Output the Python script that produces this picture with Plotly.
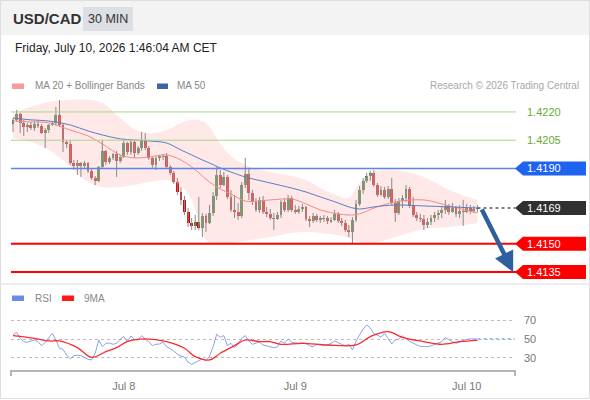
import pandas as pd
import plotly.graph_objects as go

W, H = 590, 400
FONT = "Liberation Sans, Arial, sans-serif"

# 30 min candles, Jul 7 08:30 -> Jul 10 01:30
start_time = "2026-07-07 08:30"
first_open = 1.42136
closes = [
    1.42158, 1.42189, 1.42142, 1.42120, 1.42131, 1.42115, 1.42136, 1.42126, 1.42088, 1.42104,
    1.42131, 1.42142, 1.42184, 1.42131, 1.42041, 1.42030, 1.41929, 1.41913, 1.41929, 1.41913,
    1.41929, 1.41887, 1.41850, 1.41834, 1.41908, 1.41993, 1.41934, 1.41956, 1.41977, 1.41940,
    1.41961, 1.42035, 1.41988, 1.42041, 1.41982, 1.42009, 1.42051, 1.42009, 1.41956, 1.41919,
    1.41956, 1.41961, 1.41966, 1.41908, 1.41876, 1.41828, 1.41775, 1.41733, 1.41669, 1.41611,
    1.41595, 1.41616, 1.41584, 1.41648, 1.41611, 1.41664, 1.41754, 1.41865, 1.41812, 1.41855,
    1.41749, 1.41680, 1.41669, 1.41648, 1.41812, 1.41871, 1.41770, 1.41722, 1.41680, 1.41733,
    1.41669, 1.41659, 1.41637, 1.41632, 1.41653, 1.41722, 1.41680, 1.41743, 1.41680, 1.41669,
    1.41685, 1.41696, 1.41632, 1.41621, 1.41648, 1.41627, 1.41632, 1.41637, 1.41621, 1.41627,
    1.41659, 1.41621, 1.41611, 1.41573, 1.41563, 1.41627, 1.41712, 1.41786, 1.41834, 1.41860,
    1.41876, 1.41812, 1.41759, 1.41786, 1.41749, 1.41791, 1.41717, 1.41664, 1.41727, 1.41743,
    1.41791, 1.41701, 1.41653, 1.41637, 1.41632, 1.41600, 1.41616, 1.41637, 1.41653, 1.41664,
    1.41680, 1.41701, 1.41669, 1.41690, 1.41659, 1.41674, 1.41669, 1.41690, 1.41674, 1.41685,
    1.41690]
highs = [
    1.42168, 1.42211, 1.42195, 1.42158, 1.42142, 1.42147, 1.42152, 1.42158, 1.42136, 1.42115,
    1.42136, 1.42152, 1.42227, 1.42264, 1.42136, 1.42051, 1.42051, 1.41945, 1.41945, 1.41934,
    1.41940, 1.41934, 1.41897, 1.41860, 1.41913, 1.42051, 1.41998, 1.41966, 1.41982, 1.41993,
    1.41972, 1.42051, 1.42041, 1.42051, 1.42051, 1.42019, 1.42094, 1.42088, 1.42019, 1.41961,
    1.41966, 1.41972, 1.41977, 1.41982, 1.41919, 1.41887, 1.41850, 1.41802, 1.41754, 1.41690,
    1.41637, 1.41653, 1.41749, 1.41664, 1.41659, 1.41706, 1.41775, 1.41908, 1.41892, 1.41881,
    1.41865, 1.41786, 1.41759, 1.41717, 1.41828, 1.41956, 1.41903, 1.41786, 1.41743, 1.41749,
    1.41754, 1.41696, 1.41685, 1.41664, 1.41669, 1.41733, 1.41738, 1.41759, 1.41754, 1.41706,
    1.41701, 1.41712, 1.41701, 1.41648, 1.41664, 1.41659, 1.41648, 1.41653, 1.41648, 1.41642,
    1.41680, 1.41669, 1.41637, 1.41627, 1.41600, 1.41642, 1.41733, 1.41807, 1.41850, 1.41876,
    1.41887, 1.41892, 1.41823, 1.41807, 1.41802, 1.41807, 1.41850, 1.41738, 1.41743, 1.41759,
    1.41812, 1.41802, 1.41749, 1.41669, 1.41659, 1.41653, 1.41637, 1.41653, 1.41669, 1.41680,
    1.41701, 1.41733, 1.41712, 1.41717, 1.41701, 1.41706, 1.41733, 1.41712, 1.41706, 1.41701,
    1.41706]
lows = [
    1.42094, 1.42147, 1.42088, 1.42073, 1.42094, 1.42104, 1.42099, 1.42115, 1.42083, 1.42009,
    1.42088, 1.42126, 1.42126, 1.42120, 1.41988, 1.42009, 1.41919, 1.41892, 1.41865, 1.41855,
    1.41903, 1.41876, 1.41839, 1.41812, 1.41828, 1.41903, 1.41919, 1.41924, 1.41945, 1.41855,
    1.41929, 1.41956, 1.41972, 1.41972, 1.41956, 1.41972, 1.41993, 1.41998, 1.41945, 1.41903,
    1.41892, 1.41940, 1.41945, 1.41903, 1.41865, 1.41818, 1.41759, 1.41706, 1.41653, 1.41589,
    1.41573, 1.41573, 1.41573, 1.41536, 1.41563, 1.41605, 1.41648, 1.41733, 1.41796, 1.41807,
    1.41738, 1.41669, 1.41637, 1.41627, 1.41637, 1.41796, 1.41733, 1.41706, 1.41669, 1.41664,
    1.41659, 1.41642, 1.41627, 1.41573, 1.41627, 1.41637, 1.41669, 1.41669, 1.41669, 1.41659,
    1.41659, 1.41669, 1.41621, 1.41589, 1.41611, 1.41616, 1.41611, 1.41616, 1.41605, 1.41611,
    1.41621, 1.41611, 1.41595, 1.41563, 1.41536, 1.41504, 1.41616, 1.41701, 1.41765, 1.41823,
    1.41834, 1.41802, 1.41749, 1.41754, 1.41738, 1.41738, 1.41706, 1.41616, 1.41653, 1.41690,
    1.41722, 1.41690, 1.41642, 1.41621, 1.41616, 1.41573, 1.41584, 1.41600, 1.41616, 1.41627,
    1.41637, 1.41659, 1.41653, 1.41664, 1.41642, 1.41637, 1.41595, 1.41664, 1.41659, 1.41664,
    1.41669]

band_bars = [0, 5, 10, 16, 21, 25, 30, 34, 38, 43, 47, 50, 53, 55, 58, 61, 65, 72, 78, 82,
             86, 91, 94, 97, 101, 107, 115, 122, 130]
bb_upper = [1.42195, 1.42227, 1.42253, 1.42264, 1.42264, 1.42248, 1.42168, 1.42110, 1.42088, 1.42104,
            1.42142, 1.42158, 1.42152, 1.42120, 1.42030, 1.41966, 1.41919, 1.41881, 1.41860, 1.41839,
            1.41796, 1.41754, 1.41743, 1.41823, 1.41881, 1.41892, 1.41855, 1.41786, 1.41733]
bb_lower = [1.42062, 1.42041, 1.41998, 1.41913, 1.41828, 1.41802, 1.41802, 1.41812, 1.41828, 1.41839,
            1.41807, 1.41733, 1.41558, 1.41504, 1.41499, 1.41504, 1.41515, 1.41536, 1.41558, 1.41563,
            1.41558, 1.41547, 1.41531, 1.41510, 1.41504, 1.41536, 1.41579, 1.41589, 1.41611]
ma20 = [1.42152, 1.42147, 1.42142, 1.42104, 1.42073, 1.42030, 1.41972, 1.41956, 1.41961, 1.41972,
        1.41945, 1.41908, 1.41860, 1.41828, 1.41791, 1.41765, 1.41727, 1.41733, 1.41738, 1.41712,
        1.41680, 1.41659, 1.41653, 1.41659, 1.41690, 1.41722, 1.41733, 1.41701, 1.41664]
ma50 = [1.42168, 1.42158, 1.42152, 1.42131, 1.42099, 1.42078, 1.42057, 1.42051, 1.42046, 1.42035,
        1.41998, 1.41972, 1.41945, 1.41929, 1.41903, 1.41881, 1.41855, 1.41823, 1.41796, 1.41775,
        1.41749, 1.41717, 1.41696, 1.41685, 1.41696, 1.41706, 1.41701, 1.41696, 1.41690]

# RSI, one per candle
rsi = [54.6, 57.5, 51, 47.5, 46.8, 48, 49.3, 47.5, 43, 46.8,
       51, 56.4, 49.3, 40.4, 39.3, 33, 29, 32.5, 33, 32.5,
       30.4, 28.5, 27.9, 35, 49.3, 42, 45.7, 46, 44.6, 45.7,
       50, 52.9, 47.5, 53.6, 50, 49.3, 54, 50, 47.5, 43.2,
       44.6, 45, 46.8, 42, 40, 37.5, 34, 32, 31, 25.4,
       23.2, 25.4, 27.5, 29, 27, 32, 42, 55.4, 52.1, 54,
       43.2, 45.7, 41, 45, 51, 54, 48.2, 44.6, 46, 46.8,
       43.9, 43, 42, 41, 42, 48.2, 45.7, 50.4, 46.8, 46,
       45.7, 46, 45.7, 43, 42, 44.6, 43.5, 43.2, 43.9, 45.5,
       48.2, 46, 44.6, 43.2, 44.6, 38.6, 48, 54.6, 61, 65.4,
       62, 56, 54.6, 52.1, 56.4, 51, 45, 49.3, 50, 53.9,
       50.4, 48, 45.7, 43.9, 42.5, 42, 42, 43, 44.6, 46,
       47.5, 51.8, 49.3, 47.5, 45.7, 47, 48.2, 50, 50.4, 50.4,
       50.4]
ma9_bars = [0, 6, 10, 13, 18, 22, 26, 29, 32, 37, 43, 48, 51, 55, 58, 62, 65, 69, 72, 75,
            81, 88, 96, 100, 105, 109, 115, 120, 125, 130]
rsi_ma9 = [53.9, 51, 48.2, 48.2, 41, 30.7, 36.8, 41, 47.5, 50.4, 47.5, 40.4, 31.4, 27.9, 35,
           43.2, 49.3, 47.5, 47.5, 44.6, 45.7, 43.9, 43.9, 52.9, 58.2, 52.1, 47.5, 44.6, 47.5, 48.9]

# key levels
resistances = [1.4220, 1.4205]
pivot = 1.4190
supports = [1.4150, 1.4135]
last_price = 1.4169
target = 1.4135

times = pd.date_range(start_time, periods=len(closes), freq="30min")
opens = [first_open] + closes[:-1]
t0 = pd.Timestamp(start_time)
x_range = [t0 - pd.Timedelta(minutes=17), t0 + pd.Timedelta(hours=70, minutes=15)]


def px(x):
    return x / W


def py(y):
    return 1 - y / H


fig = go.Figure()

# bollinger band fill
band_t = [times[i] for i in band_bars]
fig.add_trace(go.Scatter(x=band_t, y=bb_upper, mode="lines", line=dict(width=0, shape="spline"),
                         yaxis="y", hoverinfo="skip"))
fig.add_trace(go.Scatter(x=band_t, y=bb_lower, mode="lines", line=dict(width=0, shape="spline"),
                         fill="tonexty", fillcolor="rgba(252,200,200,0.42)", yaxis="y", hoverinfo="skip"))

# wicks
wx, wy = [], []
for t, hi, lo in zip(times, highs, lows):
    wx += [t, t, None]
    wy += [lo, hi, None]
fig.add_trace(go.Scatter(x=wx, y=wy, mode="lines", line=dict(color="#8a8a8a", width=1),
                         yaxis="y", hoverinfo="skip"))

# bodies
base = [min(o, c) for o, c in zip(opens, closes)]
size = [max(abs(c - o), 0.00004) for o, c in zip(opens, closes)]
cols = ["#2a7a2a" if c >= o else "#e30000" for o, c in zip(opens, closes)]
fig.add_trace(go.Bar(x=times, y=size, base=base, marker=dict(color=cols, line=dict(width=0)),
                     width=30 * 60 * 1000 * 0.8, yaxis="y", hoverinfo="skip"))

fig.add_trace(go.Scatter(x=band_t, y=ma20, mode="lines", line=dict(color="#f28a8a", width=1, shape="spline"),
                         yaxis="y", hoverinfo="skip"))
fig.add_trace(go.Scatter(x=band_t, y=ma50, mode="lines", line=dict(color="#5a7ec2", width=1, shape="spline"),
                         yaxis="y", hoverinfo="skip"))

# RSI panel
fig.add_trace(go.Scatter(x=times, y=rsi, mode="lines", line=dict(color="#8aa2ea", width=1),
                         yaxis="y2", hoverinfo="skip"))
fig.add_trace(go.Scatter(x=[times[i] for i in ma9_bars], y=rsi_ma9, mode="lines",
                         line=dict(color="#ff2a2a", width=1.3, shape="spline"), yaxis="y2", hoverinfo="skip"))

shapes = []
# header
shapes.append(dict(type="rect", xref="paper", yref="paper", x0=0, x1=1, y0=py(35), y1=1,
                   fillcolor="#f3f3f4", line=dict(width=0), layer="below"))
shapes.append(dict(type="rect", xref="paper", yref="paper", x0=px(83), x1=px(133), y0=py(31), y1=py(7),
                   fillcolor="#dcdfe3", line=dict(width=0), layer="below"))
# frame + separator
shapes.append(dict(type="rect", xref="paper", yref="paper", x0=px(0.5), x1=px(589.5), y0=py(398.5), y1=py(0.5),
                   line=dict(color="#dedede", width=1)))
shapes.append(dict(type="line", xref="paper", yref="paper", x0=0, x1=1, y0=py(284), y1=py(284),
                   line=dict(color="#e6e6e6", width=1.5)))

# level lines
for lv in resistances:
    shapes.append(dict(type="line", xref="paper", yref="y", x0=px(11), x1=px(516), y0=lv, y1=lv,
                       line=dict(color="#a8d889", width=1)))
shapes.append(dict(type="line", xref="paper", yref="y", x0=px(11), x1=px(516), y0=pivot, y1=pivot,
                   line=dict(color="#5b86e6", width=1.5)))
for lv in supports:
    shapes.append(dict(type="line", xref="paper", yref="y", x0=px(11), x1=px(516), y0=lv, y1=lv,
                       line=dict(color="#ff0000", width=2)))

# dotted line from last close, dotted RSI continuation
shapes.append(dict(type="line", xref="x", yref="y", x0=times[-1], x1=x_range[1], y0=last_price, y1=last_price,
                   line=dict(color="#555555", width=1.5, dash="dot")))
shapes.append(dict(type="line", xref="x", yref="y2", x0=times[-1], x1=x_range[1], y0=rsi[-1], y1=rsi[-1],
                   line=dict(color="#8aa2ea", width=1.2, dash="dot")))


# price tags on the right
def tag(level, color):
    return dict(type="path", xref="paper", yref="y", xsizemode="pixel", ysizemode="pixel",
                xanchor=px(515), yanchor=level, path="M0,0 L8,7 L71,7 L71,-7 L8,-7 Z",
                fillcolor=color, line=dict(width=0))


shapes.append(tag(pivot, "#1f63f0"))
shapes.append(tag(last_price, "#303030"))
for lv in supports:
    shapes.append(tag(lv, "#ff0000"))

# legend swatches
shapes.append(dict(type="rect", xref="paper", yref="paper", x0=px(12), x1=px(24), y0=py(89), y1=py(83.5),
                   fillcolor="#f79a9a", line=dict(width=0)))
shapes.append(dict(type="rect", xref="paper", yref="paper", x0=px(157), x1=px(168), y0=py(89), y1=py(83.5),
                   fillcolor="#3e64a6", line=dict(width=0)))
shapes.append(dict(type="rect", xref="paper", yref="paper", x0=px(12), x1=px(24), y0=py(301), y1=py(295.5),
                   fillcolor="#6b8ce6", line=dict(width=0)))
shapes.append(dict(type="rect", xref="paper", yref="paper", x0=px(62), x1=px(74), y0=py(301), y1=py(295.5),
                   fillcolor="#ff1a1a", line=dict(width=0)))

# end ticks of the time axis
for xe in (11, 515):
    shapes.append(dict(type="line", xref="paper", yref="paper", x0=px(xe), x1=px(xe), y0=py(370), y1=py(376),
                       line=dict(color="#b5b5b5", width=2)))

ann = []


def text(x, y, s, size=11, color="#888888", anchor="left", bold=False):
    ann.append(dict(xref="paper", yref="paper", x=px(x), y=py(y), text="<b>%s</b>" % s if bold else s,
                    showarrow=False, xanchor=anchor, yanchor="middle",
                    font=dict(family=FONT, size=size, color=color)))


text(11, 19, "USD/CAD", size=15, color="#333333", bold=True)
text(108, 19, "30 MIN", size=12.5, color="#333333", anchor="center")
text(13, 48, "Friday, July 10, 2026 1:46:04 AM CET", size=12, color="#222222")
text(33, 86, "MA 20 + Bollinger Bands", size=10)
text(175, 86, "MA 50", size=10)
text(581, 86, "Research © 2026 Trading Central", size=10, color="#a8a8a8", anchor="right")
text(33, 298, "RSI", size=10)
text(82, 298, "9MA", size=10)

for lv in resistances:
    ann.append(dict(xref="paper", yref="y", x=px(525), y=lv, text="%.4f" % lv, showarrow=False,
                    xanchor="left", yanchor="middle", font=dict(family=FONT, size=11, color="#66aa33")))
for lv in [pivot, last_price] + supports:
    ann.append(dict(xref="paper", yref="y", x=px(525), y=lv, text="%.4f" % lv, showarrow=False,
                    xanchor="left", yanchor="middle", font=dict(family=FONT, size=11, color="white")))

# forecast arrow
ann.append(dict(xref="x", yref="y", axref="x", ayref="y",
                x=t0 + pd.Timedelta(minutes=30 * 140), y=target,
                ax=t0 + pd.Timedelta(minutes=30 * 131), ay=last_price,
                text="", showarrow=True, arrowhead=2, arrowsize=0.9, arrowwidth=4.5, arrowcolor="#2f5f9f"))

tick_days = [pd.Timestamp("2026-07-08"), pd.Timestamp("2026-07-09"), pd.Timestamp("2026-07-10")]

fig.update_layout(
    width=W, height=H, margin=dict(l=0, r=0, t=0, b=0),
    paper_bgcolor="white", plot_bgcolor="white",
    showlegend=False, bargap=0,
    font=dict(family=FONT),
    xaxis=dict(domain=[px(11), px(515)], range=x_range, anchor="y2",
               showgrid=False, zeroline=False, showline=True, linecolor="#b5b5b5", linewidth=2,
               tickvals=tick_days, ticktext=["Jul 8", "Jul 9", "Jul 10"], ticks="",
               ticklabelstandoff=5, tickfont=dict(size=11, color="#777777")),
    yaxis=dict(domain=[py(283), py(95)], range=[1.41292, 1.42290], anchor="x",
               showgrid=False, zeroline=False, showticklabels=False),
    yaxis2=dict(domain=[py(370), py(307)], range=[17.1, 84.6], anchor="x", side="right",
                tickvals=[30, 50, 70], ticks="", showgrid=True, gridcolor="#bdbdbd", griddash="dot",
                gridwidth=1, zeroline=False, ticklabelstandoff=8,
                tickfont=dict(size=11, color="#777777")),
    shapes=shapes, annotations=ann,
)

# page body has a default 8px margin; drop it so the 590x400 figure fills the window
fig.write_html("out.html", config={"displayModeBar": False},
               post_script="document.body.style.margin='0';document.body.style.overflow='hidden';")
